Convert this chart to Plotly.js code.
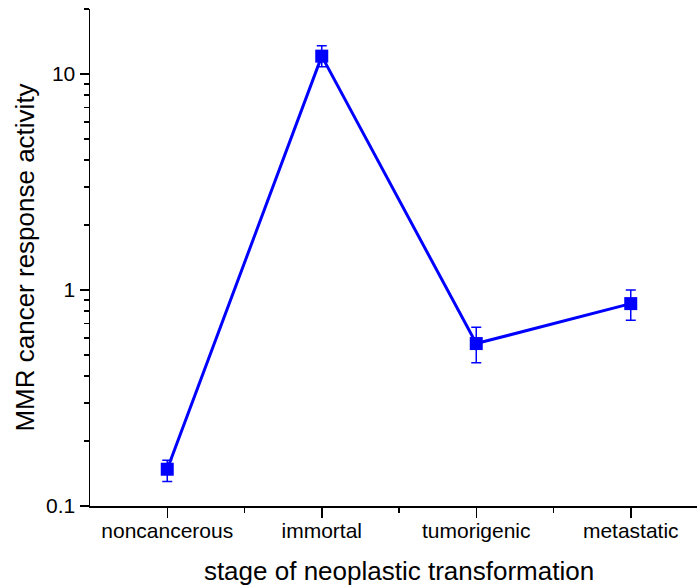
<!DOCTYPE html>
<html>
<head>
<meta charset="utf-8">
<script src="https://cdn.plot.ly/plotly-3.0.1.min.js"></script>
<style>
html,body{margin:0;padding:0;overflow:hidden;background:#fff;}
#chart{width:710px;height:586px;}
</style>
</head>
<body>
<div id="chart"></div>
<script>
const categories = ['noncancerous', 'immortal', 'tumorigenic', 'metastatic'];
const activity = [0.148, 12.1, 0.565, 0.865];
const errorPlus = [0.015, 1.4, 0.108, 0.135];
const errorMinus = [0.018, 1.3, 0.105, 0.14];
const yTickVals = [0.1, 1, 10];
const yTickText = ['0.1', '1', '10'];

const xPos = categories.map((c, i) => i);
const yMinor = [];
[0.1, 1, 10].forEach(d => { for (let k = 2; k <= 9; k++) yMinor.push(d * k); });

const trace = {
  x: xPos,
  y: activity,
  type: 'scatter',
  mode: 'lines+markers',
  line: {color: '#0000ff', width: 3},
  marker: {symbol: 'square', size: 13, color: '#0000ff'},
  error_y: {type: 'data', symmetric: false, array: errorPlus, arrayminus: errorMinus,
            color: '#0000ff', thickness: 1.5, width: 5},
  hoverinfo: 'x+y'
};

const font = {family: 'Liberation Sans, Arial, sans-serif', color: '#000'};

const layout = {
  width: 710, height: 586,
  margin: {l: 90, r: 2, t: 9, b: 80},
  paper_bgcolor: '#fff', plot_bgcolor: '#fff',
  showlegend: false,
  font: font,
  xaxis: {
    range: [-0.5, 3.5],
    tickmode: 'array', tickvals: xPos, ticktext: categories,
    ticks: 'outside', ticklen: 10, tickwidth: 1.5, tickcolor: '#000',
    ticklabelstandoff: -5,
    minor: {tickmode: 'array', tickvals: [0.5, 1.5, 2.5], ticks: 'outside', ticklen: 5, tickwidth: 1.5, tickcolor: '#000'},
    showline: true, linecolor: '#000', linewidth: 1.5,
    showgrid: false, zeroline: false,
    tickfont: {size: 21, family: font.family, color: '#000'},
    title: {text: 'stage of neoplastic transformation', font: {size: 26, family: font.family, color: '#000'}, standoff: 22}
  },
  yaxis: {
    type: 'log',
    range: [-1, Math.log10(20)],
    tickmode: 'array', tickvals: yTickVals, ticktext: yTickText,
    ticks: 'outside', ticklen: 9, tickwidth: 1.5, tickcolor: '#000',
    minor: {tickmode: 'array', tickvals: yMinor, ticks: 'outside', ticklen: 5, tickwidth: 1.5, tickcolor: '#000', showgrid: false},
    showline: true, linecolor: '#000', linewidth: 1.5,
    showgrid: false, zeroline: false,
    tickfont: {size: 21, family: font.family, color: '#000'},
    title: {text: 'MMR cancer response activity', font: {size: 26, family: font.family, color: '#000'}, standoff: 4}
  }
};

Plotly.newPlot('chart', [trace], layout, {displayModeBar: false, staticPlot: true});
</script>
</body>
</html>
